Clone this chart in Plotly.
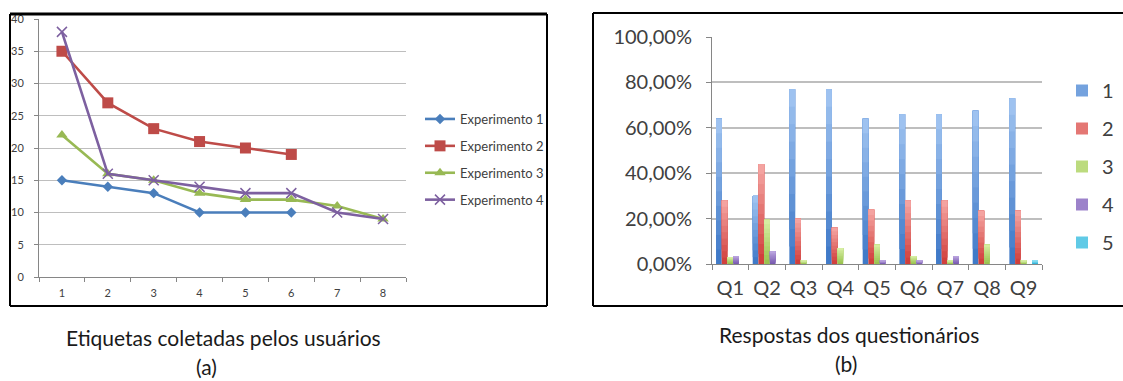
import plotly.graph_objects as go

W, H = 1123, 381

# ---------- data: (a) line chart ----------
x_cats = ["1", "2", "3", "4", "5", "6", "7", "8"]
exp1 = [15, 14, 13, 10, 10, 10]
exp2 = [35, 27, 23, 21, 20, 19]
exp3 = [22, 16, 15, 13, 12, 12, 11, 9]
exp4 = [38, 16, 15, 14, 13, 13, 10, 9]
line_names = ["Experimento 1", "Experimento 2", "Experimento 3", "Experimento 4"]
left_yticks = [0, 5, 10, 15, 20, 25, 30, 35, 40]

# ---------- data: (b) bar chart ----------
questions = ["Q1", "Q2", "Q3", "Q4", "Q5", "Q6", "Q7", "Q8", "Q9"]
resp1 = [0.64, 0.30, 0.77, 0.77, 0.64, 0.66, 0.66, 0.675, 0.73]
resp2 = [0.28, 0.44, 0.20, 0.16, 0.24, 0.28, 0.28, 0.235, 0.235]
resp3 = [0.03, 0.195, 0.015, 0.07, 0.085, 0.035, 0.015, 0.085, 0.015]
resp4 = [0.035, 0.055, 0.0, 0.0, 0.015, 0.015, 0.035, 0.0, 0.0]
resp5 = [0.0, 0.0, 0.0, 0.0, 0.0, 0.0, 0.0, 0.0, 0.015]
bar_names = ["1", "2", "3", "4", "5"]
right_yticks = [0, 0.2, 0.4, 0.6, 0.8, 1.0]

line_colors = ["#4A7EBB", "#BE4B48", "#98B954", "#7D60A0"]
line_symbols = ["diamond", "square", "triangle-up", "x-thin-open"]
line_msizes = [8, 11, 10, 10]
# gradient ends (top light, bottom dark) for each bar series
bar_top = ["#A3C6F2", "#F6A9A6", "#D9F0A6", "#BBA6E0", "#8FDFF3"]
bar_bottom = ["#3B76C6", "#CF3A37", "#98C24C", "#7657AE", "#27B0D7"]
N_BANDS = 10

def px_x(p):
    return p / W

def px_y(p):
    return 1 - p / H

def mix(c1, c2, t):
    a = [int(c1[i:i + 2], 16) for i in (1, 3, 5)]
    b = [int(c2[i:i + 2], 16) for i in (1, 3, 5)]
    return "rgb({},{},{})".format(*[round(a[j] + (b[j] - a[j]) * t) for j in range(3)])

fig = go.Figure()

# line traces
for i, (name, vals) in enumerate(zip(line_names, [exp1, exp2, exp3, exp4])):
    fig.add_trace(go.Scatter(
        x=x_cats[:len(vals)], y=vals, name=name, mode="lines+markers",
        line=dict(color=line_colors[i], width=2.6),
        marker=dict(symbol=line_symbols[i], size=line_msizes[i], color=line_colors[i],
                    line=dict(color=line_colors[i], width=1.5 if i == 3 else 0)),
        xaxis="x", yaxis="y", legend="legend", legendgroup=name,
    ))

# bar traces: overlapping layers (each from a rising base up to the value)
# give every bar a light-top / dark-bottom gradient without seams
for i, (name, vals) in enumerate(zip(bar_names, [resp1, resp2, resp3, resp4, resp5])):
    for k in range(N_BANDS):
        t = 1 - (k + 0.5) / N_BANDS  # bottom layer darkest
        fig.add_trace(go.Bar(
            x=questions, y=[v * (N_BANDS - k) / N_BANDS for v in vals],
            base=[v * k / N_BANDS for v in vals],
            name=name, offsetgroup=name,
            marker=dict(color=mix(bar_top[i], bar_bottom[i], t), line=dict(width=0)),
            xaxis="x2", yaxis="y2", legend="legend2", legendgroup="b" + name,
            showlegend=(k == N_BANDS // 2), hoverinfo="skip" if k else None,
        ))

font_main = "Lato, 'Open Sans', sans-serif"

fig.update_layout(
    width=W, height=H,
    margin=dict(l=0, r=0, t=0, b=0, autoexpand=False),
    paper_bgcolor="white", plot_bgcolor="white",
    separators=",.",
    barmode="group", bargap=0.22, bargroupgap=0,
    font=dict(family=font_main, color="#404040"),
    xaxis=dict(
        domain=[px_x(39), px_x(406)], anchor="y", automargin=False,
        type="category", categoryorder="array", categoryarray=x_cats,
        range=[-0.5, 7.5], tickangle=0,
        showline=True, linecolor="#868686", linewidth=1,
        ticks="outside", tickson="boundaries", ticklen=4, tickcolor="#868686",
        showgrid=False, tickfont=dict(size=11, color="#404040"),
        ticklabelstandoff=6, zeroline=False,
    ),
    yaxis=dict(
        domain=[px_y(277), px_y(19)], anchor="x", automargin=False,
        range=[0, 40], tickvals=left_yticks,
        showline=True, linecolor="#868686", linewidth=1,
        ticks="outside", ticklen=4, tickcolor="#868686",
        showgrid=True, gridcolor="#BEBEBE", gridwidth=1,
        tickfont=dict(size=11, color="#404040"), ticklabelstandoff=8, zeroline=False,
    ),
    xaxis2=dict(
        domain=[px_x(712), px_x(1042)], anchor="y2", automargin=False,
        type="category", categoryorder="array", categoryarray=questions,
        range=[-0.5, 8.5], tickangle=0,
        showline=True, linecolor="#868686", linewidth=1,
        ticks="outside", tickson="boundaries", ticklen=5, tickcolor="#868686",
        showgrid=False, tickfont=dict(size=20, color="#404040"),
        ticklabelstandoff=6, zeroline=False,
    ),
    yaxis2=dict(
        domain=[px_y(264), px_y(37)], anchor="x2", automargin=False,
        range=[0, 1.0], tickvals=right_yticks, tickformat=".2%",
        showline=True, linecolor="#868686", linewidth=1,
        ticks="outside", ticklen=5, tickcolor="#868686",
        showgrid=True, gridcolor="#BEBEBE", gridwidth=1.5,
        tickfont=dict(size=20, color="#404040"), ticklabelstandoff=10, zeroline=False,
    ),
    legend=dict(
        x=px_x(420), y=px_y(104), xanchor="left", yanchor="top",
        font=dict(size=13, color="#404040"), bgcolor="rgba(0,0,0,0)",
        tracegroupgap=7, itemclick=False,
    ),
    legend2=dict(
        x=px_x(1062), y=px_y(71), xanchor="left", yanchor="top",
        font=dict(size=20, color="#404040"), bgcolor="rgba(0,0,0,0)",
        tracegroupgap=9, itemclick=False,
    ),
    showlegend=True,
)

# panel borders
border = dict(type="line", xref="paper", yref="paper", line=dict(color="black"))
fig.add_shape(**border, x0=px_x(10), x1=px_x(547), y0=px_y(14), y1=px_y(14), line_width=3)
fig.add_shape(**border, x0=px_x(10), x1=px_x(10), y0=px_y(14), y1=px_y(306), line_width=2)
fig.add_shape(**border, x0=px_x(547), x1=px_x(547), y0=px_y(14), y1=px_y(306), line_width=2)
fig.add_shape(**border, x0=px_x(10), x1=px_x(547), y0=px_y(306), y1=px_y(306), line_width=2)
fig.add_shape(**border, x0=px_x(593), x1=1.0, y0=px_y(13), y1=px_y(13), line_width=2)
fig.add_shape(**border, x0=px_x(593), x1=px_x(593), y0=px_y(13), y1=px_y(306), line_width=2)
fig.add_shape(**border, x0=px_x(593), x1=1.0, y0=px_y(306), y1=px_y(306), line_width=2)

# captions
cap_font = dict(family=font_main, size=21, color="#1a1a1a")
for txt, cx, cy in [("Etiquetas coletadas pelos usuários", 223, 337), ("(a)", 206, 366),
                    ("Respostas dos questionários", 849, 334), ("(b)", 846, 363)]:
    fig.add_annotation(text=txt, x=px_x(cx), y=px_y(cy), xref="paper", yref="paper",
                       xanchor="center", yanchor="middle", showarrow=False, font=cap_font)

fig.write_html("out.html", config={"displayModeBar": False},
               post_script="document.body.style.margin='0';document.body.style.overflow='hidden';")
